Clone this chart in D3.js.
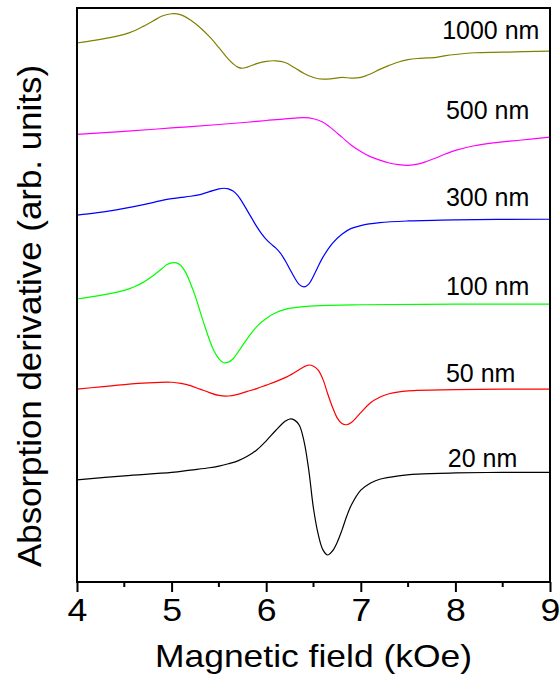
<!DOCTYPE html>
<html>
<head>
<meta charset="utf-8">
<script src="https://cdn.jsdelivr.net/npm/d3@7"></script>
<style>
  body { margin: 0; background: #fff; }
  text { font-family: "Liberation Sans", Arial, sans-serif; fill: #000; }
</style>
</head>
<body>
<script>
// ESR derivative spectra, offset vertically, one per film thickness
const width = 560, height = 677;

// field in kOe, signal in arb. units (already offset)
const field1000 = [4.0, 4.2, 4.4, 4.5, 4.6, 4.7, 4.8, 4.9, 5.0, 5.1, 5.2, 5.3, 5.4, 5.5, 5.6, 5.65, 5.7, 5.75, 5.8, 5.9, 6.0, 6.1, 6.2, 6.3, 6.4, 6.5, 6.6, 6.7, 6.8, 6.9, 7.0, 7.1, 7.2, 7.3, 7.4, 7.5, 7.6, 7.7, 7.8, 7.9, 8.0, 8.2, 8.5, 9.0];
const abs1000   = [93.9, 94.4, 95.0, 95.4, 96.0, 96.8, 97.7, 98.6, 99.0, 98.8, 97.9, 96.6, 95.0, 93.1, 91.1, 90.3, 89.7, 89.5, 89.7, 90.3, 90.7, 90.8, 90.5, 89.6, 88.6, 87.9, 87.6, 87.7, 87.9, 87.8, 87.9, 88.5, 89.3, 90.0, 90.6, 91.0, 91.2, 91.3, 91.4, 91.7, 91.9, 92.2, 92.3, 92.5];

const field500 = [4.0, 4.5, 5.0, 5.5, 5.8, 6.0, 6.2, 6.3, 6.4, 6.5, 6.6, 6.7, 6.8, 6.9, 7.0, 7.1, 7.2, 7.3, 7.4, 7.5, 7.6, 7.7, 7.8, 7.9, 8.0, 8.2, 8.4, 8.7, 9.0];
const abs500   = [78.0, 78.5, 79.1, 79.7, 80.1, 80.4, 80.7, 80.8, 80.9, 80.7, 80.1, 78.9, 77.5, 76.1, 75.0, 74.1, 73.5, 73.0, 72.7, 72.6, 72.8, 73.3, 73.9, 74.6, 75.2, 76.0, 76.5, 77.0, 77.5];

const field300 = [4.0, 4.2, 4.4, 4.6, 4.8, 4.9, 5.0, 5.1, 5.2, 5.3, 5.4, 5.5, 5.55, 5.6, 5.65, 5.7, 5.75, 5.8, 5.85, 5.9, 5.95, 6.0, 6.05, 6.1, 6.15, 6.2, 6.25, 6.3, 6.35, 6.4, 6.45, 6.5, 6.55, 6.6, 6.7, 6.8, 6.9, 7.0, 7.2, 7.5, 8.0, 9.0];
const abs300   = [63.9, 64.3, 64.8, 65.4, 66.1, 66.5, 66.8, 67.0, 67.2, 67.5, 68.0, 68.5, 68.6, 68.5, 68.1, 67.3, 66.1, 64.7, 63.3, 61.9, 60.7, 59.7, 58.9, 58.2, 57.3, 56.0, 54.5, 53.0, 51.8, 51.4, 51.9, 53.3, 55.0, 56.6, 59.0, 60.6, 61.6, 62.1, 62.6, 62.9, 63.1, 63.2];

const field100 = [4.0, 4.2, 4.4, 4.5, 4.6, 4.7, 4.8, 4.9, 4.95, 5.0, 5.05, 5.1, 5.15, 5.2, 5.25, 5.3, 5.35, 5.4, 5.45, 5.5, 5.55, 5.6, 5.65, 5.7, 5.8, 5.9, 6.0, 6.1, 6.2, 6.3, 6.5, 7.0, 8.0, 9.0];
const abs100   = [49.3, 49.8, 50.4, 50.8, 51.4, 52.2, 53.3, 54.6, 55.3, 55.6, 55.6, 55.1, 53.9, 52.0, 49.8, 47.2, 44.6, 42.2, 40.2, 38.9, 38.2, 38.3, 38.9, 40.0, 42.4, 44.5, 45.9, 46.9, 47.5, 47.8, 48.1, 48.3, 48.4, 48.4];

const field50 = [4.0, 4.25, 4.5, 4.75, 5.0, 5.1, 5.2, 5.3, 5.4, 5.5, 5.6, 5.7, 5.8, 5.9, 6.0, 6.1, 6.2, 6.3, 6.4, 6.45, 6.5, 6.55, 6.6, 6.65, 6.7, 6.75, 6.8, 6.85, 6.9, 6.95, 7.0, 7.1, 7.2, 7.3, 7.5, 8.0, 8.5, 9.0];
const abs50   = [33.6, 34.0, 34.4, 34.7, 34.8, 34.6, 34.2, 33.6, 33.0, 32.5, 32.4, 32.7, 33.2, 33.7, 34.3, 34.9, 35.6, 36.5, 37.5, 37.8, 37.6, 36.9, 35.3, 32.8, 30.5, 28.6, 27.6, 27.4, 27.8, 28.6, 29.5, 31.2, 32.2, 32.8, 33.3, 33.5, 33.6, 33.6];

const field20 = [4.0, 4.5, 5.0, 5.2, 5.4, 5.5, 5.6, 5.7, 5.8, 5.9, 6.0, 6.1, 6.2, 6.25, 6.3, 6.35, 6.4, 6.45, 6.5, 6.55, 6.6, 6.65, 6.7, 6.75, 6.8, 6.85, 6.9, 7.0, 7.1, 7.2, 7.4, 7.6, 8.0, 8.5, 9.0];
const abs20   = [17.8, 18.5, 19.1, 19.5, 19.9, 20.2, 20.6, 21.1, 21.9, 23.0, 24.6, 26.4, 28.0, 28.4, 28.2, 27.3, 24.5, 19.5, 12.8, 8.3, 5.6, 4.7, 5.4, 6.9, 9.0, 11.4, 13.4, 16.0, 17.2, 17.9, 18.5, 18.8, 19.0, 19.1, 19.1];

const thicknesses = ["1000 nm", "500 nm", "300 nm", "100 nm", "50 nm", "20 nm"];
const colors = ["#808000", "#ff00ff", "#0000ff", "#00ff00", "#ff0000", "#000000"];
const labelField = [7.86, 7.90, 7.90, 7.90, 7.90, 7.92];
const labelAbs = [94.6, 80.7, 65.5, 50.0, 34.8, 20.0];

const xTicks = [4, 5, 6, 7, 8, 9];
const xMinorTicks = [4.5, 5.5, 6.5, 7.5, 8.5];

const fields = [field1000, field500, field300, field100, field50, field20];
const values = [abs1000, abs500, abs300, abs100, abs50, abs20];
const series = thicknesses.map((t, i) => ({
    name: t,
    color: colors[i],
    pts: fields[i].map((f, j) => ({ x: f, y: values[i][j] }))
}));

const margin = { top: 8, right: 10, bottom: 95, left: 77 };
const x = d3.scaleLinear().domain([4, 9]).range([margin.left, width - margin.right]);
const y = d3.scaleLinear().domain([0, 100]).range([height - margin.bottom, margin.top]);

const svg = d3.select("body").append("svg")
    .attr("width", width)
    .attr("height", height);

const line = d3.line()
    .x(d => x(d.x))
    .y(d => y(d.y))
    .curve(d3.curveCatmullRom.alpha(0.5));

svg.append("g")
    .selectAll("path")
    .data(series)
    .enter().append("path")
    .attr("d", d => line(d.pts))
    .attr("fill", "none")
    .attr("stroke", d => d.color)
    .attr("stroke-width", 1.2);

svg.append("g")
    .selectAll("text")
    .data(series)
    .enter().append("text")
    .attr("x", (d, i) => x(labelField[i]))
    .attr("y", (d, i) => y(labelAbs[i]))
    .attr("font-size", "25px")
    .text(d => d.name);

// frame
svg.append("rect")
    .attr("x", x(4))
    .attr("y", y(100))
    .attr("width", x(9) - x(4))
    .attr("height", y(0) - y(100))
    .attr("fill", "none")
    .attr("stroke", "#000")
    .attr("stroke-width", 2);

// bottom axis
const xAxis = svg.append("g")
    .attr("transform", `translate(0,${y(0)})`)
    .call(d3.axisBottom(x).tickValues(xTicks).tickSize(10).tickSizeOuter(0).tickPadding(7).tickFormat(d3.format("d")));
xAxis.select(".domain").remove();
xAxis.selectAll(".tick line").attr("stroke-width", 2);
xAxis.selectAll(".tick text")
    .attr("font-size", "31px")
    .attr("font-family", "Liberation Sans, Arial, sans-serif")
    .attr("transform", "scale(1.15,1)");

svg.append("g")
    .attr("transform", `translate(0,${y(0)})`)
    .selectAll("line")
    .data(xMinorTicks)
    .enter().append("line")
    .attr("x1", d => x(d))
    .attr("x2", d => x(d))
    .attr("y1", 0)
    .attr("y2", 5)
    .attr("stroke", "#000")
    .attr("stroke-width", 2);

svg.append("text")
    .attr("x", (x(4) + x(9)) / 2)
    .attr("y", 667)
    .attr("text-anchor", "middle")
    .attr("font-size", "32px")
    .attr("textLength", 317)
    .attr("lengthAdjust", "spacingAndGlyphs")
    .text("Magnetic field (kOe)");

svg.append("text")
    .attr("transform", "translate(41,316) rotate(-90)")
    .attr("text-anchor", "middle")
    .attr("font-size", "34px")
    .attr("textLength", 502)
    .attr("lengthAdjust", "spacingAndGlyphs")
    .text("Absorption derivative (arb. units)");
</script>
</body>
</html>
